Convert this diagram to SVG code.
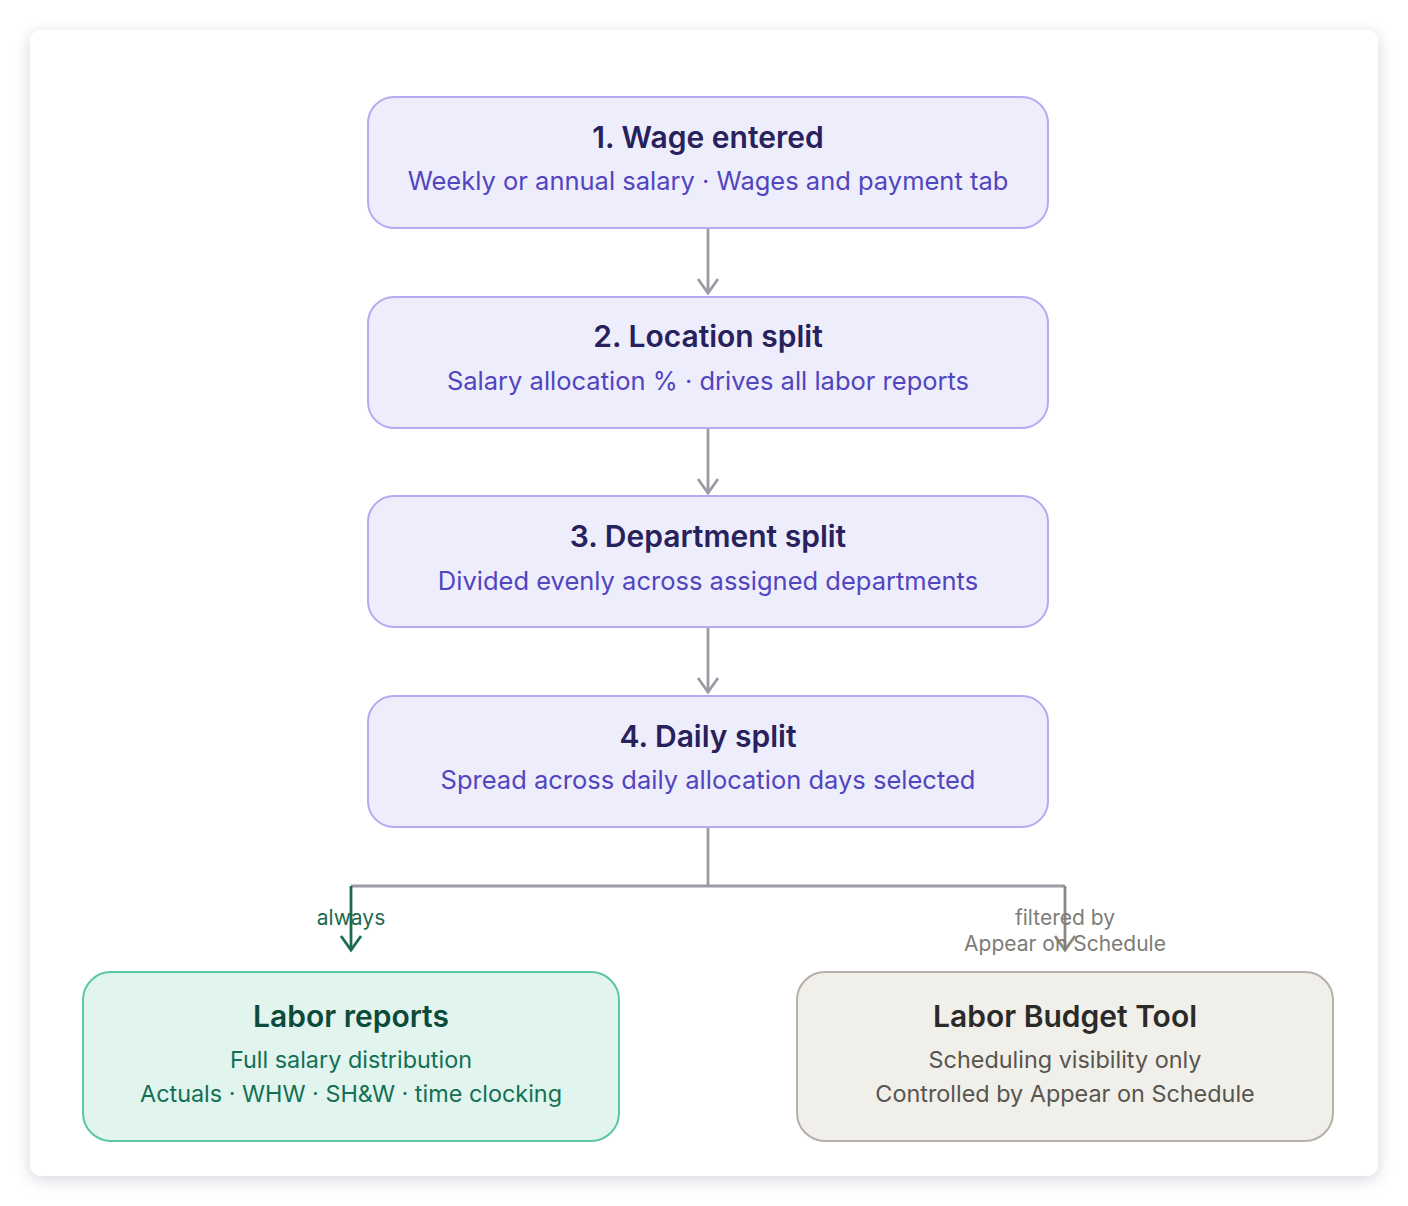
<svg xmlns="http://www.w3.org/2000/svg" width="1408" height="1206" viewBox="0 0 1408 1206">
<defs>
<filter id="sh" x="-10%" y="-10%" width="120%" height="120%">
<feDropShadow dx="0" dy="4" stdDeviation="8" flood-color="#1a1d3a" flood-opacity="0.16"/>
</filter>
<marker id="ag" viewBox="0 0 24 24" refX="18" refY="12" markerWidth="24" markerHeight="24" markerUnits="userSpaceOnUse" orient="auto">
<path d="M4 2 L18 12 L4 22" fill="none" stroke="#9d9aa6" stroke-width="2.8"/>
</marker>
<marker id="agr" viewBox="0 0 24 24" refX="18" refY="12" markerWidth="24" markerHeight="24" markerUnits="userSpaceOnUse" orient="auto">
<path d="M4 2 L18 12 L4 22" fill="none" stroke="#1a6b4f" stroke-width="2.8"/>
</marker>
<marker id="agy" viewBox="0 0 24 24" refX="18" refY="12" markerWidth="24" markerHeight="24" markerUnits="userSpaceOnUse" orient="auto">
<path d="M4 2 L18 12 L4 22" fill="none" stroke="#8a8880" stroke-width="2.8"/>
</marker>
</defs>
<style>
text{font-family:Inter,"Noto Sans","Liberation Sans",sans-serif;text-anchor:middle}
.step rect{fill:#eeedfc;stroke:#b3aaf0;stroke-width:2}
.t{font-size:30px;font-weight:600}
.step .t{fill:#27215c}
.s{font-size:25.5px}
.b{font-size:23.4px}
.step .s{fill:#5145c0}
.ln{fill:none;stroke:#9d9aa6;stroke-width:2.8}
.lb{font-size:21px}
</style>
<rect x="30" y="30" width="1348" height="1146" rx="12" fill="#ffffff" filter="url(#sh)"/>
<g id="connectors">
<line class="ln" x1="708" y1="228" x2="708" y2="293" marker-end="url(#ag)"/>
<line class="ln" x1="708" y1="428" x2="708" y2="493" marker-end="url(#ag)"/>
<line class="ln" x1="708" y1="627" x2="708" y2="692" marker-end="url(#ag)"/>
<polyline class="ln" points="708,827 708,886"/>
<polyline class="ln" points="351,886 1065,886"/>
<line x1="351" y1="886" x2="351" y2="950" stroke="#1a6b4f" stroke-width="2.8" marker-end="url(#agr)"/>
<line x1="1065" y1="886" x2="1065" y2="950" stroke="#8a8880" stroke-width="2.8" marker-end="url(#agy)"/>
<text class="lb" x="351" y="925" fill="#1a6b4f">always</text>
<text class="lb" x="1065" y="925" fill="#7e7c76">filtered by</text>
<text class="lb" x="1065" y="951" fill="#7e7c76">Appear on Schedule</text>
</g>
<g id="n1" class="step">
<rect x="368" y="97" width="680" height="131" rx="26"/>
<text class="t" x="708" y="148">1. Wage entered</text>
<text class="s" x="708" y="190">Weekly or annual salary · Wages and payment tab</text>
</g>
<g id="n2" class="step">
<rect x="368" y="297" width="680" height="131" rx="26"/>
<text class="t" x="708" y="347">2. Location split</text>
<text class="s" x="708" y="390">Salary allocation % · drives all labor reports</text>
</g>
<g id="n3" class="step">
<rect x="368" y="496" width="680" height="131" rx="26"/>
<text class="t" x="708" y="547">3. Department split</text>
<text class="s" x="708" y="590">Divided evenly across assigned departments</text>
</g>
<g id="n4" class="step">
<rect x="368" y="696" width="680" height="131" rx="26"/>
<text class="t" x="708" y="747">4. Daily split</text>
<text class="s" x="708" y="789">Spread across daily allocation days selected</text>
</g>
<g id="n5">
<rect x="83" y="972" width="536" height="169" rx="28" fill="#e1f5ee" stroke="#5cc8a0" stroke-width="2"/>
<text class="t" x="351" y="1027" fill="#0c4a3a">Labor reports</text>
<text class="b" x="351" y="1068" fill="#137055">Full salary distribution</text>
<text class="b" x="351" y="1102" fill="#137055">Actuals · WHW · SH&amp;W · time clocking</text>
</g>
<g id="n6">
<rect x="797" y="972" width="536" height="169" rx="28" fill="#f1efe9" stroke="#b5b1a8" stroke-width="2"/>
<text class="t" x="1065" y="1027" fill="#2a2a28">Labor Budget Tool</text>
<text class="b" x="1065" y="1068" fill="#57554f">Scheduling visibility only</text>
<text class="b" x="1065" y="1102" fill="#57554f">Controlled by Appear on Schedule</text>
</g>
</svg>
